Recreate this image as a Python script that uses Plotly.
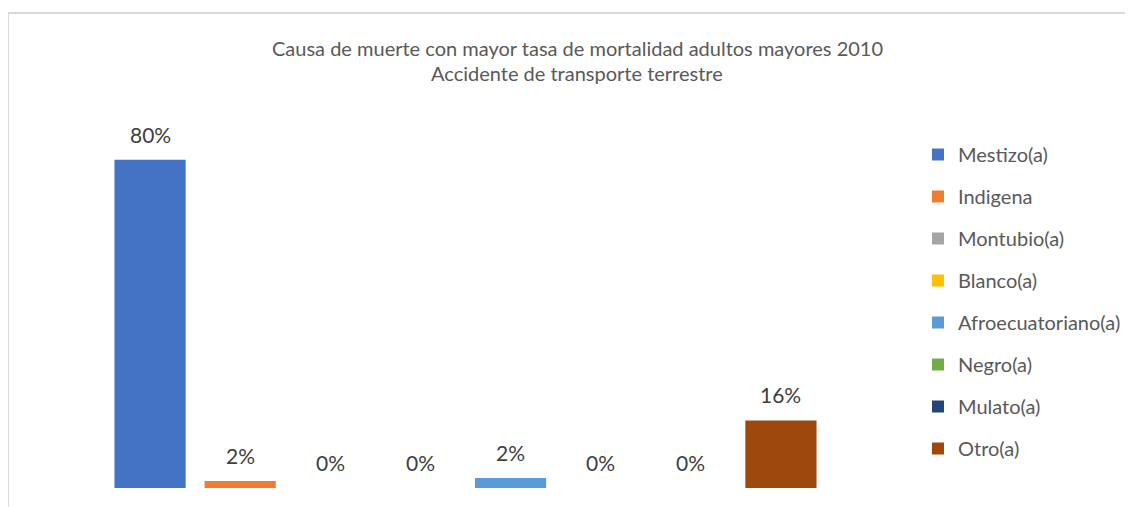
import plotly.graph_objects as go

categories = ["Mestizo(a)", "Indigena", "Montubio(a)", "Blanco(a)",
              "Afroecuatoriano(a)", "Negro(a)", "Mulato(a)", "Otro(a)"]
values = [79.6, 1.7, 0, 0, 2.4, 0, 0, 16.4]
colors = ["#4472C4", "#ED7D31", "#A5A5A5", "#FFC000",
          "#5B9BD5", "#70AD47", "#264478", "#9E480E"]
title_lines = ["Causa de muerte con mayor tasa de mortalidad adultos mayores 2010",
               "Accidente de transporte terrestre"]

W, H = 1133, 507
L, R_EDGE, T, B = 97, 818, 109, 480

fig = go.Figure()
for c, v, col in zip(categories, values, colors):
    fig.add_trace(go.Bar(
        x=[c], y=[v], name=c, marker=dict(color=col, line=dict(width=0)),
        width=0.79, legendgroup=c, cliponaxis=False,
    ))


def px_x(p):
    return (p - L) / (R_EDGE - L)


def px_y(p):
    return (B - p) / (B - T)


label_annotations = [
    dict(xref="x", yref="y", x=c, y=v, text=f"{v:.0f}%", showarrow=False,
         xanchor="center", yanchor="bottom", yshift=11,
         font=dict(size=21, color="#404040", family="Lato"))
    for c, v in zip(categories, values)
]

title_annotations = [
    dict(xref="paper", yref="paper", x=px_x(569), y=px_y(40), text=title_lines[0],
         showarrow=False, xanchor="center", yanchor="middle",
         font=dict(size=20, color="#595959", family="Lato")),
    dict(xref="paper", yref="paper", x=px_x(569), y=px_y(65), text=title_lines[1],
         showarrow=False, xanchor="center", yanchor="middle",
         font=dict(size=20, color="#595959", family="Lato")),
]

fig.update_layout(
    width=W, height=H,
    margin=dict(l=L, r=W - R_EDGE, t=T, b=H - B),
    paper_bgcolor="white", plot_bgcolor="white",
    barmode="overlay",
    font=dict(family="Lato", color="#595959"),
    xaxis=dict(visible=False, categoryorder="array", categoryarray=categories,
               range=[-0.5, 7.5]),
    yaxis=dict(visible=False, range=[0, 90]),
    legend=dict(xref="container", yref="container", x=910 / W, y=1 - 127 / H,
                xanchor="left", yanchor="top", font=dict(size=20, color="#595959"),
                tracegroupgap=13, itemclick=False, maxheight=420),
    showlegend=True,
    annotations=title_annotations + label_annotations,
    shapes=[
        dict(type="line", xref="paper", yref="paper", x0=px_x(0), x1=px_x(1140),
             y0=px_y(5), y1=px_y(5), line=dict(color="#D9D9D9", width=2)),
        dict(type="line", xref="paper", yref="paper", x0=px_x(0), x1=px_x(0),
             y0=px_y(5), y1=px_y(520), line=dict(color="#D9D9D9", width=2)),
    ],
)

fig.write_html("out.html")
